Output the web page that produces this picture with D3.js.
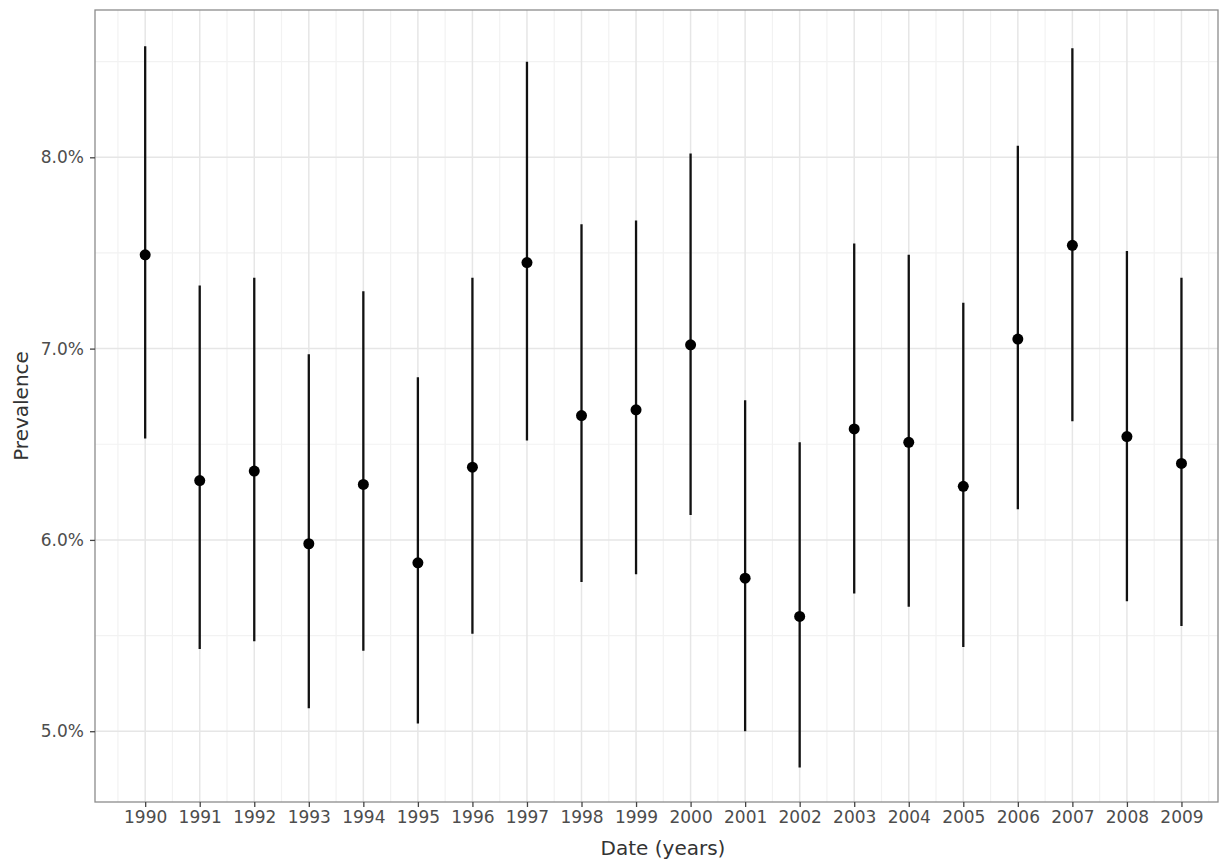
<!DOCTYPE html>
<html>
<head>
<meta charset="utf-8">
<script src="https://cdn.jsdelivr.net/npm/d3@7"></script>
<style>
  body { margin: 0; background: #fff; }
  text { font-family: "DejaVu Sans", sans-serif; }
</style>
</head>
<body>
<div id="vis"></div>
<script>
// data (prevalence in %)
let years = [1990, 1991, 1992, 1993, 1994, 1995, 1996, 1997, 1998, 1999,
             2000, 2001, 2002, 2003, 2004, 2005, 2006, 2007, 2008, 2009];
let prevalence = [7.49, 6.31, 6.36, 5.98, 6.29, 5.88, 6.38, 7.45, 6.65, 6.68,
                  7.02, 5.80, 5.60, 6.58, 6.51, 6.28, 7.05, 7.54, 6.54, 6.40];
let lower = [6.53, 5.43, 5.47, 5.12, 5.42, 5.04, 5.51, 6.52, 5.78, 5.82,
             6.13, 5.00, 4.81, 5.72, 5.65, 5.44, 6.16, 6.62, 5.68, 5.55];
let upper = [8.58, 7.33, 7.37, 6.97, 7.30, 6.85, 7.37, 8.50, 7.65, 7.67,
             8.02, 6.73, 6.51, 7.55, 7.49, 7.24, 8.06, 8.57, 7.51, 7.37];
let yTicks = [5, 6, 7, 8];
let yMinor = [5.5, 6.5, 7.5, 8.5];

let margin = { top: 10, left: 95, right: 14, bottom: 62 },
  width = 1232 - margin.left - margin.right,
  height = 864 - margin.top - margin.bottom;

let svg = d3.select('#vis')
  .append('svg')
  .attr('width', 1232)
  .attr('height', 864)
  .style('background-color', '#fff')
  .append('g')
  .attr('transform', `translate(${margin.left},${margin.top})`);

let data = years.map((d, i) => ({ year: d, p: prevalence[i], lo: lower[i], hi: upper[i] }));

// scales
const x = d3.scaleLinear()
  .domain([1989.08, 2009.67])
  .range([0, width]);
const y = d3.scaleLinear()
  .domain([4.63, 8.77])
  .range([height, 0]);

let xMinor = years.map(d => d - 0.5).concat([years[years.length - 1] + 0.5]);

// minor grid
svg.selectAll('.vminor')
  .data(xMinor)
  .enter().append('line')
  .attr('x1', d => x(d)).attr('x2', d => x(d))
  .attr('y1', 0).attr('y2', height)
  .attr('stroke', '#f2f2f2').attr('stroke-width', 1.2);
svg.selectAll('.hminor')
  .data(yMinor)
  .enter().append('line')
  .attr('y1', d => y(d)).attr('y2', d => y(d))
  .attr('x1', 0).attr('x2', width)
  .attr('stroke', '#f2f2f2').attr('stroke-width', 1.2);

// major grid
svg.selectAll('.vmajor')
  .data(years)
  .enter().append('line')
  .attr('x1', d => x(d)).attr('x2', d => x(d))
  .attr('y1', 0).attr('y2', height)
  .attr('stroke', '#e6e6e6').attr('stroke-width', 1.5);
svg.selectAll('.hmajor')
  .data(yTicks)
  .enter().append('line')
  .attr('y1', d => y(d)).attr('y2', d => y(d))
  .attr('x1', 0).attr('x2', width)
  .attr('stroke', '#e6e6e6').attr('stroke-width', 1.5);

// error bars
svg.selectAll('.bar')
  .data(data)
  .enter().append('line')
  .attr('x1', d => x(d.year)).attr('x2', d => x(d.year))
  .attr('y1', d => y(d.lo)).attr('y2', d => y(d.hi))
  .attr('stroke', '#111').attr('stroke-width', 2.3);

// points
svg.selectAll('.pt')
  .data(data)
  .enter().append('circle')
  .attr('cx', d => x(d.year))
  .attr('cy', d => y(d.p))
  .attr('r', 5.5)
  .attr('fill', '#000');

// panel border
svg.append('rect')
  .attr('x', 0).attr('y', 0)
  .attr('width', width).attr('height', height)
  .attr('fill', 'none')
  .attr('stroke', '#8c8c8c')
  .attr('stroke-width', 1.3);

// x axis
let xAxis = svg.append('g')
  .attr('transform', `translate(0,${height})`)
  .call(d3.axisBottom(x).tickValues(years).tickFormat(d3.format('d')).tickSize(5).tickPadding(4));
xAxis.select('.domain').remove();
xAxis.selectAll('line').attr('stroke', '#444').attr('stroke-width', 1.3);
xAxis.selectAll('text')
  .attr('fill', '#4d4d4d')
  .style('font-size', '17px');

// y axis
let yAxis = svg.append('g')
  .call(d3.axisLeft(y).tickValues(yTicks).tickFormat(d => d.toFixed(1) + '%').tickSize(5).tickPadding(6));
yAxis.select('.domain').remove();
yAxis.selectAll('line').attr('stroke', '#444').attr('stroke-width', 1.3);
yAxis.selectAll('text')
  .attr('fill', '#4d4d4d')
  .style('font-size', '17px');

// axis titles
svg.append('text')
  .attr('text-anchor', 'middle')
  .attr('x', 568)
  .attr('y', height + 53)
  .attr('fill', '#333')
  .style('font-size', '20px')
  .text('Date (years)');

svg.append('text')
  .attr('text-anchor', 'middle')
  .attr('transform', `translate(-67,${height / 2}) rotate(-90)`)
  .attr('fill', '#333')
  .style('font-size', '20px')
  .text('Prevalence');
</script>
</body>
</html>
